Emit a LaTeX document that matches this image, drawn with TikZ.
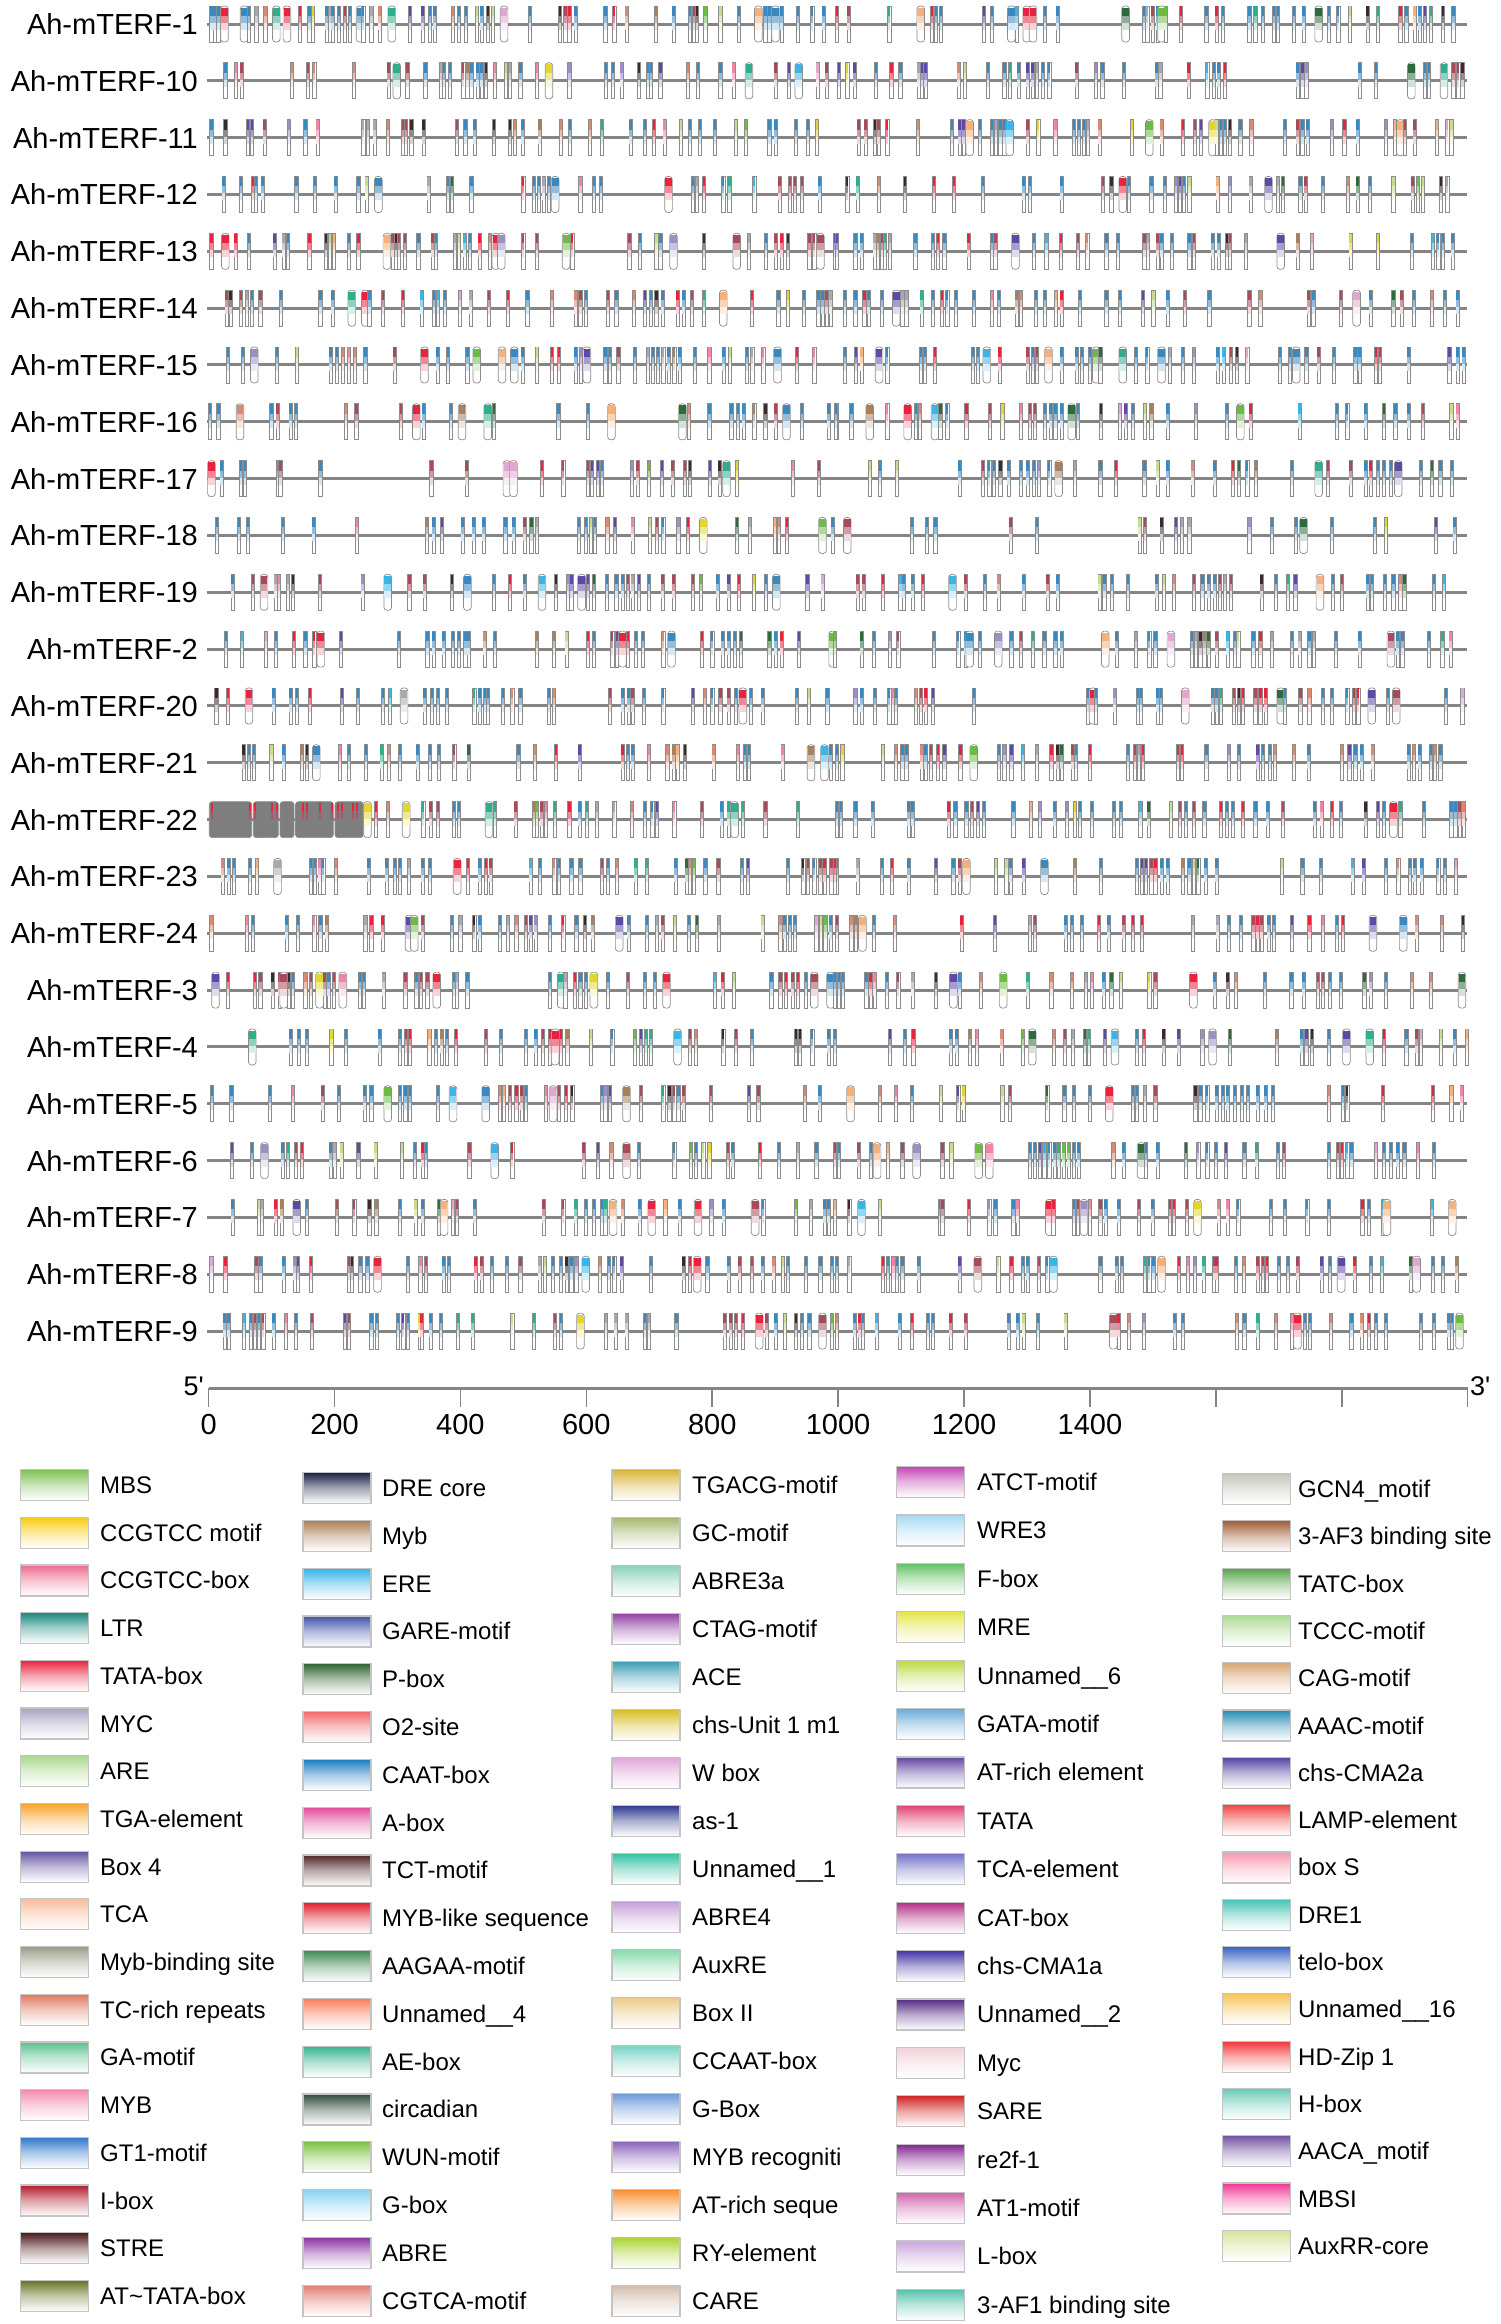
\documentclass[tikz,border=0pt]{standalone}
\usepackage{fontspec}
\setmainfont{Liberation Sans}
\definecolor{trackgray}{HTML}{858585}
\definecolor{motline}{HTML}{8C8C8C}
\definecolor{boxgray}{HTML}{C4C4C4}
\definecolor{blockgray}{HTML}{7E7E7E}
\definecolor{mcb}{HTML}{3A88BE}
\definecolor{mcc}{HTML}{3BB4E8}
\definecolor{mcr}{HTML}{E8233F}
\definecolor{mcp}{HTML}{EF86A4}
\definecolor{mcm}{HTML}{A84A5A}
\definecolor{mcs}{HTML}{D98A72}
\definecolor{mcn}{HTML}{A7805E}
\definecolor{mcg}{HTML}{6DBB45}
\definecolor{mcd}{HTML}{2E6B3C}
\definecolor{mct}{HTML}{2FAE8E}
\definecolor{mcy}{HTML}{E2D633}
\definecolor{mcl}{HTML}{C7DD8E}
\definecolor{mcv}{HTML}{5E4AA6}
\definecolor{mcu}{HTML}{9C8FC4}
\definecolor{mco}{HTML}{F6B07C}
\definecolor{mck}{HTML}{3A2A2E}
\definecolor{mcw}{HTML}{A8A8B0}
\definecolor{mce}{HTML}{E0A8D0}
\newcommand\widec[2]{\colorlet{mc#1}{mc#2}\expandafter\def\csname wide@#1\endcsname{}}
\widec{B}{b}\widec{C}{c}\widec{R}{r}\widec{P}{p}\widec{M}{m}\widec{S}{s}
\widec{N}{n}\widec{G}{g}\widec{D}{d}\widec{T}{t}\widec{Y}{y}\widec{L}{l}
\widec{V}{v}\widec{U}{u}\widec{O}{o}\widec{K}{k}\widec{W}{w}\widec{E}{e}
\tikzset{
  track/.style={draw=trackgray, line width=3pt},
  motif/.style={draw=motline, line width=0.7pt},
  lab/.style={anchor=base east, font=\fontsize{29}{32}\selectfont, inner sep=0pt},
  leg/.style={anchor=base west, font=\fontsize{24}{28}\selectfont, inner sep=0pt},
  legbox/.style={draw=boxgray, line width=1.2pt, minimum width=68pt, minimum height=31pt, inner sep=0pt},
  axisline/.style={draw=trackgray, line width=3pt},
  tickline/.style={draw=trackgray, line width=1.6pt},
  ticklab/.style={anchor=base, font=\fontsize{29}{32}\selectfont, inner sep=0pt},
  endlab/.style={font=\fontsize{27}{32}\selectfont, inner sep=0pt},
}
\newcommand\mymot[3]{%
  \ifcsname wide@#3\endcsname\def\hw{3.8}\def\tp{16.4}\def\rcr{3pt}\else\def\hw{1.6}\def\tp{17.6}\def\rcr{0pt}\fi
  \edef\ccn{mc#3}%
  \filldraw[motif, fill=white, rounded corners=\rcr] (#1-\hw,#2+18) rectangle (#1+\hw,#2-18);
  \fill[\ccn] (#1-\hw+0.4,#2+\tp) rectangle (#1+\hw-0.4,#2+8);
  \fill[\ccn!55!white] (#1-\hw+0.4,#2+8) rectangle (#1+\hw-0.4,#2+1);
  \fill[\ccn!20!white] (#1-\hw+0.4,#2+1) rectangle (#1+\hw-0.4,#2-6);}
\newcommand\motrow[3]{%
  \pgfmathsetmacro\yy{-24-56.83*#1}%
  \foreach \p/\q in {#3}{\pgfmathsetmacro\xx{#2+\p/2.45}\mymot{\xx}{\yy}{\q}}}
\newcommand\legcol[5]{% x box center, x text, y0, dy, list
  \foreach \tx/\hx [count=\i from 0] in {#5}{%
    \edef\tmpdef{\noexpand\definecolor{lgc}{HTML}{\hx}}\tmpdef
    \pgfmathsetmacro\ly{-(#3+#4*\i)}%
    \node[legbox, top color=lgc, bottom color=white, middle color=lgc!40!white] (lb#1x\i) at (#1,\ly) {};
    \node[leg] (lt#1x\i) at (#2,\ly-8.5) {\tx};
  }}
\begin{document}
\begin{tikzpicture}[x=1pt,y=1pt]
\useasboundingbox (0,0) rectangle (1500,-2324);
\fill[white] (0,0) rectangle (1500,-2324);
% tracks and labels
\foreach \n [count=\i from 0] in {1,10,11,12,13,14,15,16,17,18,19,2,20,21,22,23,24,3,4,5,6,7,8,9}{
  \pgfmathsetmacro\yy{-24-56.83*\i}
  \node[lab] (lab\i) at (198,\yy-10.5) {Ah-mTERF-\n};
  \coordinate (ts\i) at (207,\yy);
  \coordinate (te\i) at (1467,\yy);
  \draw[track] (ts\i) -- (te\i);
}
% motifs
\motrow{0}{200}{28/b,36/b,45/b,60/R,108/B,120/b,138/w,160/s,187/T,213/R,245/r,268/b,277/y,310/b,318/w,325/b,340/b,355/m,368/b,392/B,400/b,420/w,440/s,470/T,515/v,545/v,563/b,575/b,620/s,635/b,652/b,678/l,690/b,705/k,718/l,745/E,808/b,882/k,895/m,905/r,920/b,993/b,1015/r,1045/s,1117/n,1160/b,1200/b,1210/m,1218/k,1238/g,1275/l,1320/b,1368/O,1385/b,1395/b,1410/B,1425/b,1465/b,1500/b,1528/b,1560/b}
\motrow{0}{835}{5/r,33/m,133/t,210/O,237/r,248/b,260/b,365/v,385/b,432/B,445/c,470/R,485/R,515/b,545/b,712/D,757/b,765/w,778/m,790/b,800/G,810/g,848/r,910/b,935/r,950/b,1015/b,1030/t,1048/b,1075/b,1085/b,1125/b,1148/b,1185/D,1210/b,1233/b,1262/l,1305/k,1330/t,1385/r,1400/b,1420/o,1432/b,1445/v,1460/t,1490/k,1515/b}
\motrow{1}{200}{62/b,88/p,102/m,225/s,265/m,280/s,377/s,462/m,482/T,508/m,552/b,590/w,598/b,612/b,645/m,655/n,665/b,680/b,690/b,700/k,722/p,750/l,760/w,785/b,825/p,855/Y,905/u,995/b,1012/b,1033/u,1075/k,1098/b,1105/b,1128/v,1195/s,1220/b,1275/b,1307/p,1345/T,1410/m,1443/v,1467/C,1513/e,1535/m,1565/v}
\motrow{1}{835}{30/y,48/v,100/b,138/r,160/b,205/w,213/v,222/v,303/s,318/l,375/b,415/b,428/t,450/b,472/v,484/v,495/w,510/b,525/b,592/m,640/u,655/b,708/b,788/b,797/w,866/r,912/c,928/b,940/b,955/r,1133/b,1145/v,1155/u,1285/b,1325/b,1412/D,1445/b,1455/b,1492/T,1515/m,1527/m,1537/k}
\motrow{2}{200}{28/b,62/k,118/v,128/v,158/m,218/u,258/b,288/p,400/w,412/w,428/w,460/s,497/m,505/m,518/k,548/k,630/m,650/b,673/b,720/k,760/k,772/s,790/b,832/n,885/s,907/b,955/s,985/t,1055/b,1090/b,1112/r,1138/p,1178/l,1200/b,1225/b,1262/b,1313/l,1337/g,1395/b,1410/b,1460/b,1490/b,1512/y}
\motrow{2}{835}{58/m,75/m,98/k,107/m,128/r,203/s,287/b,305/v,315/v,330/O,355/b,385/b,395/w,405/b,415/b,428/C,472/m,498/y,540/p,585/b,598/b,610/b,620/w,648/s,727/y,770/G,800/s,852/r,882/m,896/v,925/Y,935/l,945/b,955/b,968/k,993/b,1020/s,1102/b,1133/m,1145/b,1158/b,1218/u,1248/r,1280/b,1350/u,1372/o,1385/O,1397/m,1420/m,1475/o,1500/e,1510/l}
\motrow{3}{200}{58/b,100/b,130/r,137/b,153/b,236/b,282/b,332/b,388/b,408/l,437/B,560/w,608/b,617/d,665/b,792/r,818/b,830/b,842/w,855/b,870/B,932/p,965/b,983/b,1148/R,1208/b,1218/w,1235/r,1282/b,1297/t,1358/c,1420/m,1445/m,1458/m,1475/m,1518/b}
\motrow{3}{835}{30/k,55/t,108/s,172/k,242/r,291/r,363/b,462/b,477/b,555/b,657/m,677/k,705/R,720/b,775/b,808/b,835/u,845/v,855/b,868/l,937/o,968/u,1018/w,1062/V,1085/w,1098/d,1140/b,1153/m,1195/b,1257/s,1280/d,1310/b,1368/l,1415/m,1428/g,1440/l,1485/k,1500/w}
\motrow{4}{200}{28/r,62/R,87/r,120/b,183/v,205/w,215/b,268/r,308/k,318/l,328/o,365/b,388/r,458/O,472/m,480/k,488/m,502/m,535/b,570/m,578/b,625/w,635/l,648/c,662/b,685/r,710/s,725/R,738/U,792/m,825/m,897/G,912/r,1052/m,1078/b,1118/l,1128/b,1160/U,1235/k,1315/M,1345/w,1387/b,1410/m,1425/r,1440/k,1493/m,1505/m,1520/M,1555/v}
\motrow{4}{835}{5/v,50/b,65/b,97/w,105/n,115/m,123/t,135/w,197/b,240/b,252/r,268/b,327/r,385/b,393/m,442/V,487/b,518/c,553/r,595/m,618/s,665/b,693/b,758/m,767/w,790/m,800/b,825/b,868/b,880/m,925/b,940/b,960/k,968/m,1007/w,1092/V,1133/n,1168/e,1263/y,1330/y,1413/b,1465/c,1478/b,1490/b,1513/b}
\motrow{5}{200}{65/m,75/k,100/m,115/w,128/b,148/m,198/b,295/b,325/b,372/T,405/R,415/b,448/m,497/r,543/c,573/b,583/c,600/b,637/e,663/w,708/m,755/r,802/b,862/s,920/s,932/m,945/b,1000/m,1020/b,1063/s,1090/v,1105/b,1118/k,1133/b,1170/r,1185/b,1205/m,1235/t,1282/O,1352/r,1417/b,1440/y,1480/b,1515/b,1525/b,1535/m,1545/w}
\motrow{5}{835}{25/b,50/b,72/r,82/b,115/b,150/V,165/w,175/w,212/t,240/b,262/r,275/b,297/b,340/b,385/p,402/b,445/n,455/s,492/b,515/b,542/o,555/r,600/b,665/b,698/b,755/v,780/l,815/b,857/m,917/b,1015/m,1042/s,1160/m,1172/b,1240/m,1278/E,1312/b,1368/d,1388/m,1418/b,1463/s,1495/b,1525/b}
\motrow{6}{200}{68/b,105/b,133/U,188/b,238/l,320/b,335/b,350/s,365/p,380/s,405/b,477/m,550/R,582/b,608/b,655/b,678/G,740/O,770/B,790/b,825/l,862/r,880/r,920/b,933/u,948/V,993/b,1005/b,1025/m,1065/b,1098/w,1110/b,1122/b,1135/w,1148/b,1162/n,1175/b,1212/b,1248/p,1283/b,1298/l,1340/b,1353/w,1380/p,1415/B,1462/r,1505/p}
\motrow{6}{835}{25/b,52/v,65/o,108/V,128/b,210/b,220/b,245/r,338/b,350/b,372/C,403/r,472/m,485/b,495/m,523/O,555/b,592/b,605/b,625/b,640/G,650/d,705/T,737/b,765/b,800/B,820/w,852/b,880/u,937/b,952/c,970/m,985/k,1010/e,1090/b,1115/b,1130/B,1155/b,1185/m,1222/b,1275/b,1285/b,1325/r,1335/m,1405/b,1505/v,1525/b,1540/b}
\motrow{7}{200}{25/b,45/b,98/S,175/b,190/m,222/b,235/b,358/s,383/m,493/m,530/R,548/b,615/b,642/N,705/T,720/d,878/b,950/b,1008/O,1182/D,1198/s,1248/b,1302/b,1318/b,1332/b,1358/n,1385/k,1410/m,1437/B,1475/b,1540/b,1560/t}
\motrow{7}{835}{2/b,40/b,85/N,128/p,178/R,198/b,208/s,245/C,258/d,275/b,322/r,380/m,410/y,455/p,478/m,490/m,515/b,528/b,540/b,555/b,580/D,595/b,652/k,698/e,712/v,730/b,760/l,775/n,815/b,885/u,960/b,993/G,1018/r,1138/c,1230/b,1255/b,1300/b,1345/d,1373/b,1405/b,1440/m,1510/l,1525/p}
\motrow{8}{200}{28/R,53/b,100/b,110/b,192/n,197/m,295/b,567/m,653/m,752/E,768/E,838/r,890/m,950/m,960/v,975/v,985/b,1058/u,1072/m,1100/g,1132/v,1158/m,1188/m,1200/k,1250/v,1273/k,1290/T,1315/y,1453/p,1517/m}
\motrow{8}{835}{85/l,110/b,152/l,305/b,362/m,378/b,390/b,405/k,425/b,455/b,472/b,487/b,500/u,525/b,548/N,588/w,650/b,688/r,758/b,790/l,815/b,876/s,930/b,975/r,990/d,1010/b,1032/n,1120/b,1185/T,1208/m,1263/m,1300/b,1312/r,1330/b,1345/b,1362/b,1380/V,1435/b,1462/d,1483/b,1512/b}
\motrow{9}{200}{42/b,95/b,117/b,203/b,278/b,385/p,556/n,572/b,593/v,643/b,670/b,695/b,748/b,768/b,795/m,812/d,825/w,928/b,945/b,958/l,968/b,998/s,1017/v,1060/p,1103/l,1120/m,1135/b,1172/u,1195/r,1233/Y,1316/d,1348/w,1408/o,1418/s,1438/r,1525/G,1550/b}
\motrow{9}{835}{30/M,188/b,225/b,246/b,430/m,495/b,746/l,760/m,800/k,835/v,850/w,868/w,1015/u,1070/b,1130/b,1148/D,1218/b,1323/b,1350/y,1473/v,1518/b}
\motrow{10}{200}{80/b,130/m,157/M,185/w,193/p,215/w,228/k,294/m,398/u,460/C,513/m,550/m,617/k,655/B,720/b,760/r,795/b,838/C,872/k,902/u,910/v,935/V,950/v,965/d,997/b,1020/b,1035/b,1048/m,1060/w,1075/v,1100/b,1133/m,1160/m,1208/m,1228/g,1268/b,1295/v,1320/r,1357/y,1387/b,1412/B,1488/v,1525/e}
\motrow{10}{835}{55/m,70/m,118/r,160/c,168/b,190/b,215/r,288/C,320/m,368/b,401/s,462/b,521/m,545/b,648/l,660/b,678/b,718/b,788/b,806/l,830/s,880/m,900/b,915/b,930/b,943/m,955/w,970/m,1045/k,1080/b,1110/t,1128/v,1188/O,1220/b,1242/m,1305/b,1315/b,1348/b,1368/b,1385/s,1395/d,1468/b,1492/c}
\motrow{11}{200}{63/b,103/c,162/e,186/b,230/r,258/b,280/r,296/R,345/v,488/b,557/b,572/b,597/b,620/b,635/b,650/b,658/b,697/s,722/b,826/n,867/n,898/l,950/r,965/b,1010/m,1022/v,1035/R,1048/r,1068/b,1085/b,1135/s,1155/B,1230/r,1255/b,1280/b,1295/b,1310/b,1325/d,1395/d,1410/b,1425/r,1467/v,1550/G}
\motrow{11}{835}{0/g,65/d,95/b,135/u,155/m,243/b,302/b,320/b,330/B,355/b,400/U,432/b,455/m,485/t,513/b,540/b,555/b,662/O,690/b,737/w,770/b,785/b,823/E,875/b,885/w,895/k,905/n,915/d,935/m,962/c,980/b,988/l,1025/b,1042/r,1070/w,1120/b,1138/w,1162/b,1173/w,1228/b,1285/b,1362/M,1378/b,1390/b,1455/b,1488/t,1508/p}
\motrow{12}{200}{40/k,68/r,120/R,180/b,222/b,238/b,270/r,348/v,387/b,448/b,465/c,500/W,550/b,568/b,583/b,605/b,672/t,685/b,698/b,706/b,742/b,765/s,785/b,855/b,867/s,1005/m,1035/b,1050/b,1060/m,1088/b,1135/b,1208/v,1237/s,1255/b,1275/m,1295/m,1313/b,1330/R,1350/b,1378/b,1462/b,1492/l,1537/b}
\motrow{12}{835}{50/u,65/b,98/b,133/b,143/p,150/b,198/s,210/m,222/r,240/v,340/b,620/b,632/R,640/b,685/u,743/b,750/b,790/b,798/b,858/E,925/b,935/b,945/t,977/m,990/k,1000/r,1030/m,1042/r,1055/r,1092/D,1103/b,1140/m,1162/s,1195/b,1218/b,1255/b,1272/m,1282/r,1315/V,1355/b,1375/M,1497/b,1537/e}
\motrow{13}{200}{107/k,120/b,132/b,175/l,205/b,250/n,262/k,285/B,343/p,365/b,407/b,445/t,463/s,490/b,533/b,563/b,585/b,623/m,658/d,780/b,820/s,872/r,930/v,1035/r,1048/b,1060/b,1100/p,1145/s,1160/n,1170/o,1188/k,1258/s,1318/p,1335/b,1345/b,1427/p,1497/N,1530/C,1545/b,1560/b}
\motrow{13}{835}{5/b,18/y,117/l,150/s,165/b,175/b,212/s,222/b,235/m,252/r,268/v,307/r,340/G,402/b,415/u,432/v,460/c,495/w,530/r,545/k,555/d,582/m,590/b,625/r,718/b,735/m,745/w,755/r,840/m,850/r,910/b,965/u,990/b,1035/v,1048/b,1065/b,1078/s,1125/s,1160/b,1242/s,1260/v,1275/b,1290/b,1317/s,1405/b,1418/s,1432/b,1460/b,1470/s,1483/b}
% Ah-mTERF-22 dense block
\pgfmathsetmacro\yb{-24-56.83*14}
\foreach \xa/\xb in {209.3/251.7,253.3/278.3,280/294,295.5/333.3,335/363.3}{
  \filldraw[motif, fill=blockgray, rounded corners=3pt] (\xa,\yb+18) rectangle (\xb,\yb-18);}
\foreach \xr in {212,250,255,272,277,303,307,320,332,338,342,353,357}{
  \fill[mcr] (\xr-1,\yb+17) rectangle (\xr+1,\yb+9);
  \fill[mcr!45!blockgray] (\xr-1,\yb+9) rectangle (\xr+1,\yb+1);}
\mymot{367.5}{\yb}{Y}
\mymot{376}{\yb}{r}
\motrow{14}{200}{460/s,505/Y,547/t,565/m,583/m,622/b,635/b,708/T,722/t,773/m,818/n,825/g,837/m,848/p,870/t,905/r,930/b,948/t,972/w,1015/w,1058/s,1090/b,1108/b,1120/v,1162/p,1230/m,1278/b,1295/t,1310/T,1330/t,1385/m,1465/t,1560/t}
\motrow{14}{835}{5/b,15/b,50/b,92/b,180/b,190/b,278/r,295/b,322/b,336/m,350/v,365/b,437/b,480/o,502/u,538/b,568/u,588/y,600/b,630/b,683/b,700/b,748/c,768/d,823/l,845/m,860/b,880/m,905/b,945/r,960/b,975/b,1000/r,1030/b,1060/b,1097/m,1175/b,1192/p,1218/r,1240/b,1300/k,1330/v,1345/b,1368/R,1385/t,1443/b,1510/b,1520/b,1530/m,1540/s}
\motrow{15}{200}{55/s,70/b,83/b,122/b,140/o,190/W,272/b,282/b,293/p,302/b,333/s,413/b,457/b,478/b,490/b,512/w,545/b,563/b,630/R,657/r,685/b,700/r,712/m,810/c,833/b,868/s,880/b,910/b,932/b,985/m,1000/b,1022/s,1067/t,1095/t,1165/b,1192/d,1200/s,1210/g,1238/b,1270/m,1328/b,1343/v,1440/b,1478/k,1490/m,1505/b,1520/m,1530/r,1547/m,1560/b}
\motrow{15}{835}{0/r,55/w,115/b,140/r,180/b,248/v,290/b,305/m,322/O,395/l,420/l,430/b,462/v,513/B,588/n,652/b,740/b,752/v,762/v,775/m,785/r,800/b,815/b,852/n,868/b,880/l,890/d,908/b,935/b,1095/l,1145/b,1190/b,1268/c,1295/v,1350/b,1380/s,1408/b,1420/b,1437/b,1478/b,1495/b,1522/e}
\motrow{16}{200}{28/s,115/p,130/b,212/b,240/b,280/p,295/b,310/n,405/w,420/r,447/r,512/V,525/G,545/m,617/b,638/w,672/k,685/b,735/b,755/w,775/s,798/m,810/v,822/u,857/b,890/r,922/b,943/k,962/n,1027/V,1050/b,1095/b,1120/w,1133/m,1163/l,1198/b,1218/d,1272/w,1378/l,1422/s,1432/b,1445/b,1457/b,1510/e,1522/l,1532/g,1545/b,1560/w}
\motrow{16}{835}{5/m,40/s,52/n,67/O,95/b,147/s,310/r,392/v,478/w,490/m,565/b,580/b,605/b,647/r,670/b,707/m,730/r,752/r,877/w,937/w,965/b,995/b,1025/m,1035/r,1045/m,1062/b,1075/b,1120/v,1162/r,1195/p,1230/b,1245/r,1318/V,1392/B,1425/s,1487/s,1538/k}
\motrow{17}{200}{38/V,68/r,135/r,148/m,178/k,195/m,205/M,218/k,228/b,258/s,272/m,293/Y,305/m,315/b,328/m,350/P,392/b,402/b,450/w,503/m,530/b,542/m,557/m,580/R,622/b,630/w,655/b,858/b,885/T,895/w,918/r,932/b,945/b,965/Y,1000/b,1048/m,1090/b,1115/b,1143/R,1262/c,1280/r,1308/l,1400/b,1422/m,1435/r,1452/m,1465/r,1485/b,1505/M,1545/B,1560/b}
\motrow{17}{835}{0/b,10/b,20/b,77/b,87/r,97/p,127/b,155/m,190/w,248/k,290/V,305/b,358/s,412/G,472/t,530/s,580/s,615/w,630/p,658/b,677/d,700/l,770/y,785/m,878/R,930/b,962/k,983/s,1053/b,1118/b,1148/b,1183/m,1195/m,1213/b,1240/b,1297/d,1312/u,1350/b,1413/s,1460/s,1536/D}
\motrow{18}{200}{128/T,222/b,242/b,262/b,322/y,357/b,440/b,490/b,505/m,515/r,562/o,578/b,592/n,605/b,627/r,700/m,737/b,798/b,822/b,840/m,858/r,870/R,885/r,900/n,958/l,1010/b,1065/g,1080/v,1092/t,1105/t,1170/C,1200/m,1215/s,1282/k,1313/m,1352/b,1460/k,1470/k,1500/b,1540/b,1555/b}
\motrow{18}{835}{0/b,135/v,172/b,192/r,283/b,298/b,330/n,348/p,408/s,460/g,483/D,537/s,563/m,583/w,612/d,622/t,662/v,686/C,740/b,757/r,805/k,842/v,900/u,925/U,968/d,1083/n,1143/b,1155/v,1168/k,1210/b,1253/V,1310/T,1345/r,1400/b,1425/m,1435/e,1485/l,1518/b,1548/o}
\motrow{19}{200}{30/b,77/b,172/b,228/p,300/m,340/b,403/b,420/b,460/G,490/b,503/b,515/b,583/b,620/C,700/B,735/s,745/o,760/m,775/r,788/m,798/b,848/p,865/E,880/m,897/r,912/k,985/b,993/u,1005/v,1045/N,1080/m,1135/t,1150/k,1162/m,1172/b,1185/m,1252/m,1345/v,1368/m,1482/s,1518/b}
\motrow{19}{835}{38/O,110/s,150/p,188/b,260/l,302/v,315/y,410/l,428/m,520/d,562/b,585/b,625/b,672/R,730/b,740/b,760/w,785/m,883/k,895/b,912/b,935/b,950/b,962/b,980/b,997/b,1012/b,1035/b,1055/b,1073/b,1210/s,1245/b,1255/k,1342/r,1465/r,1510/o,1535/p}
\motrow{20}{200}{78/v,127/b,158/U,202/b,215/t,235/m,250/r,320/b,330/w,347/l,388/v,430/l,495/l,527/b,545/r,553/b,660/m,722/C,765/r,940/m,975/v,1008/s,1045/M,1075/b,1162/b,1203/g,1215/b,1233/l,1248/y,1293/m,1305/b,1372/r,1418/b,1465/w,1510/b,1555/m}
\motrow{20}{835}{10/b,58/m,88/b,103/O,130/o,165/m,200/U,263/m,285/l,352/G,378/P,478/b,490/b,502/v,513/c,525/b,538/b,548/t,560/g,572/g,585/b,597/b,682/s,707/b,750/D,762/b,790/b,860/d,890/u,912/b,933/b,958/v,1003/b,1033/t,1085/b,1100/m,1210/b,1232/m,1242/r,1255/c,1265/b,1325/e,1345/b,1362/b,1378/b,1395/b,1428/p,1468/b}
\motrow{21}{200}{80/b,145/l,152/w,185/r,200/n,237/V,262/b,335/m,378/m,415/k,432/n,490/b,528/l,545/b,585/d,598/O,620/e,630/m,673/b,842/m,890/m,920/t,945/b,965/b,985/b,993/t,1012/O,1035/s,1077/b,1107/R,1140/o,1175/b,1220/R,1253/u,1283/b,1360/M,1380/b,1460/g,1497/w,1530/b,1540/b,1555/m}
\motrow{21}{835}{0/o,35/k,65/C,110/l,258/b,263/m,328/r,378/u,393/b,437/b,447/p,525/R,535/r,585/b,595/m,610/U,625/p,650/m,663/b,695/b,745/m,778/b,820/m,830/r,862/m,888/Y,940/s,962/p,988/b,1068/b,1102/b,1157/b,1210/b,1292/r,1308/b,1342/c,1352/O,1463/c,1512/O}
\motrow{22}{200}{28/e,62/r,138/m,148/b,205/b,232/u,240/v,272/r,365/m,372/k,393/b,410/b,435/R,510/b,540/p,553/m,597/b,610/b,675/r,690/m,715/b,752/b,785/m,832/w,845/l,865/b,885/b,898/k,910/b,922/u,945/C,980/s,1002/b,1015/b,1033/v,1105/b,1185/k,1200/r,1218/R,1243/b,1295/b,1322/m,1352/m,1378/b,1405/s,1428/l,1440/b,1485/b,1520/b,1548/b}
\motrow{22}{835}{5/b,35/w,118/r,130/b,143/p,152/b,165/b,205/b,305/v,350/M,400/l,432/r,460/b,472/b,500/m,520/b,535/C,650/b,690/b,703/b,760/t,770/b,780/b,800/O,843/r,865/p,882/u,903/t,928/m,935/r,982/b,1002/s,1035/m,1048/m,1058/r,1088/b,1110/b,1133/m,1192/v,1212/b,1240/V,1273/r,1313/b,1340/c,1410/d,1425/E,1465/b,1490/b,1523/n}
\motrow{23}{200}{60/b,70/b,108/c,125/b,135/m,145/b,155/m,180/b,210/p,235/b,275/m,355/v,365/m,420/b,433/b,485/b,498/v,510/b,538/y,543/r,565/b,590/b,632/t,668/t,765/l,818/t,870/m,885/b,932/Y,995/w,1018/w,1045/w,1090/b,1100/w,1167/b,1285/m,1300/m,1313/m,1330/r,1370/R,1388/m,1410/b,1433/l,1460/k,1475/b,1493/b,1525/M,1548/g,1560/w}
\motrow{23}{835}{5/s,48/b,60/r,68/b,102/c,158/b,188/r,228/b,240/b,283/r,320/m,425/b,447/b,462/l,497/b,565/l,682/M,695/r,720/s,757/u,832/b,852/b,985/s,1003/b,1035/t,1080/s,1120/p,1133/R,1152/b,1163/b,1215/s,1265/b,1290/s,1308/r,1325/b,1350/b,1435/b,1468/b,1503/b,1512/b,1530/G}
% axis
\coordinate (ax0) at (208.6,-1388);
\coordinate (ax1) at (1467.6,-1388);
\draw[axisline] (ax0) -- (ax1);
\foreach \k in {0,...,10}{
  \coordinate (tk\k) at (208.6+125.9*\k,-1388);
  \coordinate (tb\k) at (208.6+125.9*\k,-1407);
  \draw[tickline] (tk\k) -- (tb\k);
}
\foreach \v [count=\k from 0] in {0,200,400,600,800,1000,1200,1400}{
  \node[ticklab] (tl\k) at (208.6+125.9*\k,-1434) {\v};
}
\node[endlab, anchor=base east] (five) at (204,-1395) {5\textquotesingle};
\node[endlab, anchor=base west] (three) at (1470,-1395) {3\textquotesingle};
% legend
\legcol{54.5}{100}{1485}{47.7}{MBS/7CC152,CCGTCC motif/F7CB0F,CCGTCC-box/EE6A8E,LTR/1A8A7E,TATA-box/E8223C,MYC/A9A4C2,ARE/ABD98C,TGA-element/F9A328,Box 4/6552A2,TCA/F8BC98,Myb-binding site/9C9C8A,TC-rich repeats/E0785C,GA-motif/58C28F,MYB/F48BB0,GT1-motif/2F78CB,I-box/B31A2A,STRE/4E1A1C,AT\textasciitilde TATA-box/667724}
\legcol{337}{382}{1488}{47.8}{DRE core/1B2344,Myb/AB7D55,ERE/31B2E8,GARE-motif/4152A8,P-box/2F6633,O2-site/F06A6A,CAAT-box/1A7CC2,A-box/E24C9C,TCT-motif/4E2626,MYB-like sequence/E1202E,AAGAA-motif/3F8B52,Unnamed\_\_4/F97B55,AE-box/33B38F,circadian/2F4A3A,WUN-motif/7CC443,G-box/86D3F2,ABRE/8A34A6,CGTCA-motif/E27D72}
\legcol{646}{692}{1485}{48}{TGACG-motif/D9B437,GC-motif/A6B86E,ABRE3a/86D3B8,CTAG-motif/9444A6,ACE/3D9EB6,chs-Unit 1 m1/D6BE24,W box/E0A6DA,as-1/2F3A92,Unnamed\_\_1/35C2A3,ABRE4/C59FD6,AuxRE/86DBA9,Box II/E9CB86,CCAAT-box/76D4C4,G-Box/6D9ADB,MYB recogniti/8B64BC,AT-rich seque/F98F2E,RY-element/ABD433,CARE/D4BEAE}
\legcol{930.5}{977}{1482}{48.4}{ATCT-motif/C546B3,WRE3/A4DBF2,F-box/63C163,MRE/E4E64A,Unnamed\_\_6/BBDA3E,GATA-motif/66ABD9,AT-rich element/6444A3,TATA/E24474,TCA-element/7474CA,CAT-box/B22C85,chs-CMA1a/4334A3,Unnamed\_\_2/532A84,Myc/F2D2DA,SARE/D22424,re2f-1/832493,AT1-motif/D264AB,L-box/CBA6DB,3-AF1 binding site/55C3AA}
\legcol{1256.5}{1298}{1489}{47.3}{GCN4\_motif/C4C4BA,3-AF3 binding site/A25C34,TATC-box/55A444,TCCC-motif/ADDB94,CAG-motif/DBA675,AAAC-motif/238AB3,chs-CMA2a/5343A3,LAMP-element/F24444,box S/F996AE,DRE1/44C3B3,telo-box/3463C3,Unnamed\_\_16/F8C458,HD-Zip 1/F23434,H-box/66CBB4,AACA\_motif/7454A4,MBSI/F23594,AuxRR-core/D6E497}
\end{tikzpicture}
\end{document}
